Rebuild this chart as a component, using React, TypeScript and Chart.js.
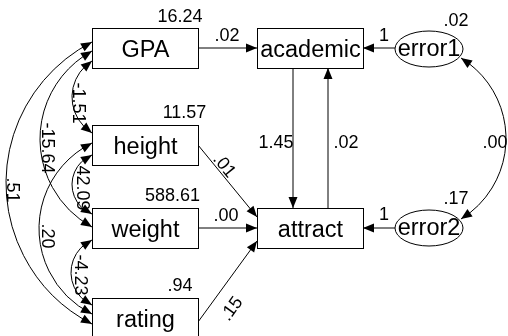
import React, { useEffect, useRef } from "react";
import { Chart, registerables } from "chart.js";

Chart.register(...registerables);

// ---------------- data ----------------
const observedVars = ["GPA", "height", "weight", "rating"];
const observedVariances = [16.24, 11.57, 588.61, 0.94];
const endogenousVars = ["academic", "attract"];
const errorVars = ["error1", "error2"];
const errorVariances = [0.02, 0.17];

const pathFrom = ["GPA", "height", "weight", "rating", "academic", "attract", "error1", "error2"];
const pathTo = ["academic", "attract", "attract", "attract", "attract", "academic", "academic", "attract"];
const pathWeights = [0.02, 0.01, 0.0, 0.15, 1.45, 0.02, 1, 1];

const covFrom = ["GPA", "GPA", "GPA", "height", "height", "weight", "error1"];
const covTo = ["height", "weight", "rating", "weight", "rating", "rating", "error2"];
const covValues = [-1.51, -15.64, 0.51, 42.09, 0.2, -4.23, 0.0];

// ---------------- layout (diagram units = scale values) ----------------
const BOXES: Record<string, number[]> = {
  GPA: [92, 28, 106, 40],
  height: [92, 125, 106, 40],
  weight: [92, 208, 106, 40],
  rating: [92, 298, 106, 40],
  academic: [257, 28, 106, 40],
  attract: [257, 208, 106, 40],
};
const ELLIPSES: Record<string, number[]> = {
  error1: [429, 49, 34, 18],
  error2: [429, 228, 34, 18],
};
const VAR_LABEL_POS: Record<string, number[]> = {
  GPA: [180, 17],
  height: [184.5, 113],
  weight: [172.5, 196],
  rating: [180, 286],
  error1: [456, 21],
  error2: [456, 199],
};
const PATH_GEOM = [
  [198, 48, 257, 48],
  [198, 145, 257, 217],
  [198, 228, 257, 228],
  [198, 322, 257, 241],
  [293, 68, 293, 208],
  [328, 208, 328, 68],
  [395, 48, 363, 48],
  [395, 228, 363, 228],
];
const PATH_LABEL_POS = [
  [227, 36, 0],
  [224, 166, 50.7],
  [226, 216, 0],
  [232, 309, -54],
  [276, 143, 0],
  [346, 143, 0],
  [384, 36, 0],
  [384, 215, 0],
];
// x1, y1, x2, y2, bulge (positive = left of p1->p2 direction on screen)
const COV_GEOM = [
  [92, 61, 92, 133, 20],
  [92, 51, 92, 227, 52],
  [92, 42, 92, 324, 86],
  [92, 155, 92, 214, 20],
  [92, 143, 92, 314, 53],
  [92, 240, 92, 305, 21],
  [461, 58, 461, 219, -45],
];
const COV_LABEL_POS = [
  [78, 103, 90],
  [47, 148, 90],
  [12, 190, 90],
  [82, 188, 90],
  [47, 236, 90],
  [80, 275, 90],
  [495, 143, 0],
];

const FONT = "'Liberation Sans', Arial, sans-serif";
const NAME_SIZE = 23.5;
const NUM_SIZE = 18;
const HEAD_LEN = 11;
const HEAD_HALF = 4.5;

function fmt(v: number): string {
  if (Number.isInteger(v) && v !== 0) return String(v);
  return v.toFixed(2).replace(/^(-?)0\./, "$1.");
}

function drawHead(ctx: CanvasRenderingContext2D, tx: number, ty: number, fx: number, fy: number) {
  const d = Math.hypot(tx - fx, ty - fy) || 1;
  const ux = (tx - fx) / d;
  const uy = (ty - fy) / d;
  const bx = tx - ux * HEAD_LEN;
  const by = ty - uy * HEAD_LEN;
  ctx.beginPath();
  ctx.moveTo(tx, ty);
  ctx.lineTo(bx - uy * HEAD_HALF, by + ux * HEAD_HALF);
  ctx.lineTo(bx + uy * HEAD_HALF, by - ux * HEAD_HALF);
  ctx.closePath();
  ctx.fill();
}

function drawText(ctx: CanvasRenderingContext2D, text: string, x: number, y: number, size: number, rotDeg = 0) {
  ctx.save();
  ctx.translate(x, y);
  if (rotDeg) ctx.rotate((rotDeg * Math.PI) / 180);
  ctx.font = `${size}px ${FONT}`;
  ctx.textAlign = "center";
  ctx.textBaseline = "middle";
  ctx.fillText(text, 0, 0);
  ctx.restore();
}

const diagramPlugin = {
  id: "pathDiagram",
  afterDraw(chart: any) {
    const ctx: CanvasRenderingContext2D = chart.ctx;
    const sx = chart.scales.x;
    const sy = chart.scales.y;
    const px = (v: number) => sx.getPixelForValue(v);
    const py = (v: number) => sy.getPixelForValue(v);
    ctx.save();
    ctx.strokeStyle = "#000";
    ctx.fillStyle = "#000";
    ctx.lineWidth = 1;

    // covariance arcs
    COV_GEOM.forEach((g) => {
      const x1 = px(g[0]), y1 = py(g[1]), x2 = px(g[2]), y2 = py(g[3]);
      const s = g[4];
      const mx = (x1 + x2) / 2, my = (y1 + y2) / 2;
      const dx = x2 - x1, dy = y2 - y1;
      const c = Math.hypot(dx, dy);
      const nx = -dy / c, ny = dx / c;
      const sa = Math.abs(s);
      const sign = Math.sign(s);
      const R = (c * c / 4 + sa * sa) / (2 * sa);
      const cx = mx + nx * sign * (sa - R);
      const cy = my + ny * sign * (sa - R);
      const a1 = Math.atan2(y1 - cy, x1 - cx);
      const a2 = Math.atan2(y2 - cy, x2 - cx);
      const apexA = Math.atan2(my + ny * s - cy, mx + nx * s - cx);
      const TAU = Math.PI * 2;
      const norm = (a: number) => ((a % TAU) + TAU) % TAU;
      const span = norm(a2 - a1);
      const increasing = norm(apexA - a1) < span;
      ctx.beginPath();
      ctx.arc(cx, cy, R, a1, a2, !increasing);
      ctx.stroke();
      const dA = HEAD_LEN / R;
      const b1 = a1 + (increasing ? dA : -dA);
      const b2 = a2 + (increasing ? -dA : dA);
      drawHead(ctx, x1, y1, cx + R * Math.cos(b1), cy + R * Math.sin(b1));
      drawHead(ctx, x2, y2, cx + R * Math.cos(b2), cy + R * Math.sin(b2));
    });

    // straight paths
    PATH_GEOM.forEach((g) => {
      const x1 = px(g[0]), y1 = py(g[1]), x2 = px(g[2]), y2 = py(g[3]);
      ctx.beginPath();
      ctx.moveTo(x1, y1);
      ctx.lineTo(x2, y2);
      ctx.stroke();
      drawHead(ctx, x2, y2, x1, y1);
    });

    // boxes
    [...observedVars, ...endogenousVars].forEach((name) => {
      const b = BOXES[name];
      const x = Math.round(px(b[0])) + 0.5;
      const y = Math.round(py(b[1])) + 0.5;
      const w = Math.round(px(b[0] + b[2]) - px(b[0]));
      const h = Math.round(py(b[1] + b[3]) - py(b[1]));
      ctx.fillStyle = "#fff";
      ctx.fillRect(x, y, w, h);
      ctx.strokeRect(x, y, w, h);
      ctx.fillStyle = "#000";
      drawText(ctx, name, x + w / 2, y + h / 2 + 2, NAME_SIZE);
    });

    // ellipses
    errorVars.forEach((name) => {
      const e = ELLIPSES[name];
      const cx = px(e[0]), cy = py(e[1]);
      const rx = px(e[0] + e[2]) - cx, ry = py(e[1] + e[3]) - cy;
      ctx.beginPath();
      ctx.ellipse(cx, cy, rx, ry, 0, 0, Math.PI * 2);
      ctx.fillStyle = "#fff";
      ctx.fill();
      ctx.stroke();
      ctx.fillStyle = "#000";
      drawText(ctx, name, cx, cy + 1, NAME_SIZE);
    });

    // variance labels
    observedVars.forEach((name, i) => {
      const p = VAR_LABEL_POS[name];
      drawText(ctx, fmt(observedVariances[i]), px(p[0]), py(p[1]), NUM_SIZE);
    });
    errorVars.forEach((name, i) => {
      const p = VAR_LABEL_POS[name];
      drawText(ctx, fmt(errorVariances[i]), px(p[0]), py(p[1]), NUM_SIZE);
    });

    // path labels
    pathWeights.forEach((w, i) => {
      const p = PATH_LABEL_POS[i];
      drawText(ctx, fmt(w), px(p[0]), py(p[1]), NUM_SIZE, p[2]);
    });

    // covariance labels
    covValues.forEach((v, i) => {
      const p = COV_LABEL_POS[i];
      drawText(ctx, fmt(v), px(p[0]), py(p[1]), NUM_SIZE, p[2]);
    });

    ctx.restore();
  },
};

export default function App() {
  const ref = useRef<HTMLCanvasElement | null>(null);
  useEffect(() => {
    document.body.style.margin = "0";
    if (!ref.current) return;
    const chart = new Chart(ref.current, {
      type: "scatter",
      data: {
        datasets: [
          {
            label: "paths " + pathFrom.length + "/" + pathTo.length + " cov " + covFrom.length + "/" + covTo.length,
            data: [],
            pointRadius: 0,
          },
        ],
      },
      options: {
        animation: false,
        responsive: false,
        events: [],
        layout: { padding: 0 },
        scales: {
          x: { type: "linear", min: 0, max: 508, display: false },
          y: { type: "linear", min: 0, max: 336, reverse: true, display: false },
        },
        plugins: { legend: { display: false }, tooltip: { enabled: false } },
      },
      plugins: [diagramPlugin],
    });
    return () => chart.destroy();
  }, []);
  return (
    <div style={{ position: "absolute", left: 0, top: 0, width: 508, height: 336, background: "#fff" }}>
      <canvas ref={ref} width={508} height={336} style={{ display: "block" }} />
    </div>
  );
}
